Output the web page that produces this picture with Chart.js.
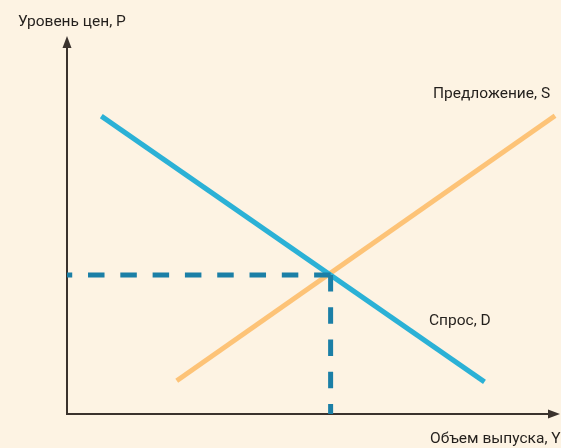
<!DOCTYPE html>
<html>
<head>
<meta charset="utf-8">
<script src="https://cdn.jsdelivr.net/npm/chart.js@4/dist/chart.umd.min.js"></script>
<style>
  html, body { margin: 0; padding: 0; background: #fdf3e3; }
  #wrap { width: 561px; height: 448px; position: relative; }
</style>
</head>
<body>
<div id="wrap"><canvas id="c" width="561" height="448"></canvas></div>
<script>
// Data (abstract units 0..100 on both axes)
const demandX = [7, 85.2];
const demandY = [78.8, 8.5];
const supplyX = [22.4, 99.6];
const supplyY = [8.8, 78.9];
const eqX = 53.8;
const eqY = 36.8;
const labels = {
  yAxis: 'Уровень цен, P',
  xAxis: 'Объем выпуска, Y',
  supply: 'Предложение, S',
  demand: 'Спрос, D'
};

const BG = '#fdf3e3';
const BLUE = '#2bb1d6';
const ORANGE = '#fdc377';
const DASH = '#1b7fa6';
const AXIS = '#3a322d';

const pts = (xs, ys) => xs.map((x, i) => ({ x: x, y: ys[i] }));

const decor = {
  id: 'decor',
  beforeDraw(chart) {
    const ctx = chart.ctx;
    ctx.save();
    ctx.fillStyle = BG;
    ctx.fillRect(0, 0, chart.width, chart.height);
    ctx.restore();
  },
  beforeDatasetsDraw(chart) {
    const ctx = chart.ctx;
    const xs = chart.scales.x, ys = chart.scales.y;
    const ox = xs.getPixelForValue(0), oy = ys.getPixelForValue(0);
    ctx.save();
    ctx.strokeStyle = AXIS;
    ctx.fillStyle = AXIS;
    ctx.lineWidth = 2;
    // y axis
    ctx.beginPath();
    ctx.moveTo(ox, oy + 1);
    ctx.lineTo(ox, 44);
    ctx.stroke();
    ctx.beginPath();
    ctx.moveTo(ox, 36);
    ctx.lineTo(ox - 4.5, 48);
    ctx.lineTo(ox + 4.5, 48);
    ctx.closePath();
    ctx.fill();
    // x axis
    ctx.beginPath();
    ctx.moveTo(ox - 1, oy);
    ctx.lineTo(552, oy);
    ctx.stroke();
    ctx.beginPath();
    ctx.moveTo(560, oy);
    ctx.lineTo(548, oy - 4.5);
    ctx.lineTo(548, oy + 4.5);
    ctx.closePath();
    ctx.fill();
    ctx.restore();
  },
  afterDraw(chart) {
    const ctx = chart.ctx;
    ctx.save();
    ctx.fillStyle = '#231f1c';
    ctx.font = '15.5px Roboto, "Liberation Sans Narrow", sans-serif';
    ctx.textBaseline = 'alphabetic';
    ctx.textAlign = 'left';
    ctx.fillText(labels.yAxis, 18, 26);
    ctx.fillText(labels.supply, 433, 98);
    ctx.fillText(labels.demand, 429, 325);
    ctx.fillText(labels.xAxis, 430, 443);
    ctx.restore();
  }
};

new Chart(document.getElementById('c'), {
  type: 'scatter',
  data: {
    datasets: [
      { data: pts(supplyX, supplyY), borderColor: ORANGE, borderWidth: 5, showLine: true, pointRadius: 0, clip: false, order: 3 },
      { data: pts(demandX, demandY), borderColor: BLUE, borderWidth: 5, showLine: true, pointRadius: 0, clip: false, order: 2 },
      { data: [{ x: eqX, y: eqY }, { x: 0, y: eqY }], borderColor: DASH, borderWidth: 5, borderDash: [16.5, 15.8], showLine: true, pointRadius: 0, clip: false, order: 1 },
      { data: [{ x: eqX, y: eqY }, { x: eqX, y: 0 }], borderColor: DASH, borderWidth: 5, borderDash: [16.5, 15.8], showLine: true, pointRadius: 0, clip: false, order: 0 }
    ]
  },
  options: {
    responsive: false,
    animation: false,
    layout: { padding: { left: 67, right: 4, top: 36, bottom: 34 } },
    plugins: { legend: { display: false }, tooltip: { enabled: false } },
    scales: {
      x: { type: 'linear', min: 0, max: 100, display: false },
      y: { type: 'linear', min: 0, max: 100, display: false }
    }
  },
  plugins: [decor]
});
</script>
</body>
</html>
